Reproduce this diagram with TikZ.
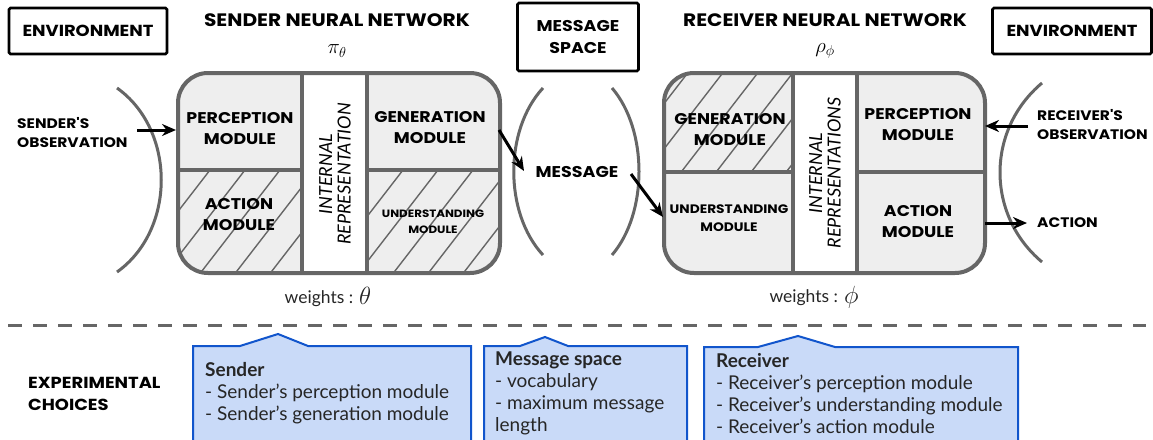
\documentclass[tikz,border=0pt]{standalone}
\usepackage{fontspec}
\setmainfont{Lato}
\newfontfamily\pop{Poppins}[FakeStretch=1.12]
\usetikzlibrary{arrows.meta}
\definecolor{bord}{HTML}{666666}
\definecolor{cellg}{HTML}{EEEEEE}
\definecolor{bfill}{HTML}{C9DAF8}
\definecolor{bline}{HTML}{1155CC}
\tikzset{
  capt/.style={font=\pop\bfseries\fontsize{15.5}{21}\selectfont, align=center, inner sep=0pt},
  capl/.style={font=\pop\bfseries\fontsize{13.8}{19}\selectfont, align=left, inner sep=0pt, anchor=west},
  smallcap/.style={font=\pop\bfseries\fontsize{10.6}{16}\selectfont, align=center, inner sep=0pt},
  rot/.style={font=\itshape\fontsize{18}{18.5}\selectfont, align=center, rotate=90, inner sep=0pt},
  envbox/.style={draw=black, line width=2.8pt, rounded corners=1.5pt, minimum width=158pt, minimum height=46pt, inner sep=0pt, font=\pop\bfseries\fontsize{16}{21}\selectfont, align=center},
  titl/.style={font=\pop\bfseries\fontsize{18}{21}\selectfont, inner sep=0pt},
  nnborder/.style={draw=bord, line width=4pt, rounded corners=30pt},
  inner/.style={draw=bord, line width=4pt},
  hatch/.style={draw=bord, line width=1.4pt},
  envarc/.style={draw=bord, line width=3pt},
  arr/.style={-{Stealth[length=14pt,width=12pt]}, line width=3pt, black},
  bluebox/.style={fill=bfill, draw=bline, line width=2pt, line join=miter},
  btext/.style={font=\fontsize{19}{22}\selectfont, align=left, anchor=north west, inner sep=0pt, text=black!85},
  wtext/.style={inner sep=0pt, font=\fontsize{17.5}{20}\selectfont, text=black!85},
}
\begin{document}
\begin{tikzpicture}[x=1pt,y=-1pt]
\useasboundingbox (0,0) rectangle (1153,439);

% ---------------- top boxes
\node[envbox] (envL) at (88,31) {ENVIRONMENT};
\node[envbox, minimum width=159pt] (envR) at (1072,31) {ENVIRONMENT};
\node[envbox, minimum width=121pt, minimum height=68pt, font=\pop\bfseries\fontsize{15.6}{22}\selectfont] (msp) at (578,37) {MESSAGE\\SPACE};

\node[titl] (stitle) at (337,20) {SENDER NEURAL NETWORK};
\node[inner sep=0pt, font=\fontsize{22}{24}\selectfont] (spi) at (337,51) {$\pi_\theta$};
\node[titl] (rtitle) at (825,20) {RECEIVER NEURAL NETWORK};
\node[inner sep=0pt, font=\fontsize{22}{24}\selectfont] (rrho) at (825,51) {$\rho_\phi$};

% ---------------- sender network
\fill[cellg, rounded corners=30pt] (178,73) rectangle (500,273);
\begin{scope}
  \clip[rounded corners=30pt] (178,73) rectangle (500,273);
  \clip (178,170) rectangle (302,273);
  \foreach \i in {0,...,9} \draw[hatch] (90+\i*35,280) -- ++(85,-110);
\end{scope}
\begin{scope}
  \clip[rounded corners=30pt] (178,73) rectangle (500,273);
  \clip (367,170) rectangle (500,273);
  \foreach \i in {0,...,9} \draw[hatch] (283+\i*35,280) -- ++(85,-110);
\end{scope}
\fill[white] (302,73) rectangle (367,273);
\draw[inner] (302,73) -- (302,273) (367,73) -- (367,273) (178,170) -- (302,170) (367,170) -- (500,170);
\draw[nnborder] (178,73) rectangle (500,273);

\node[capt] (sperc) at (240,129) {PERCEPTION\\MODULE};
\node[capt] (sact) at (239,215) {ACTION\\MODULE};
\node[rot] (sint) at (335,174) {INTERNAL\\REPRESENTATION};
\node[capt] (sgen) at (430,128) {GENERATION\\MODULE};
\node[smallcap] (sund) at (433,222) {UNDERSTANDING\\MODULE};

% ---------------- receiver network
\fill[cellg, rounded corners=30pt] (664,73) rectangle (985,273);
\begin{scope}
  \clip[rounded corners=30pt] (664,73) rectangle (985,273);
  \clip (664,73) rectangle (793,172);
  \foreach \i in {0,...,9} \draw[hatch] (605+\i*35,180) -- ++(85,-110);
\end{scope}
\fill[white] (793,73) rectangle (857,273);
\draw[inner] (793,73) -- (793,273) (857,73) -- (857,273) (664,172) -- (793,172) (857,172) -- (985,172);
\draw[nnborder] (664,73) rectangle (985,273);

\node[capt] (rgen) at (730,130) {GENERATION\\MODULE};
\node[smallcap, font=\pop\bfseries\fontsize{12.3}{18}\selectfont] (rund) at (729,218) {UNDERSTANDING\\MODULE};
\node[rot] (rint) at (825,173) {INTERNAL\\REPRESENTATIONS};
\node[capt] (rperc) at (918,125) {PERCEPTION\\MODULE};
\node[capt] (ract) at (918,222) {ACTION\\MODULE};

% ---------------- environment / message arcs
\draw[envarc] (117,88) .. controls (176,130) and (176,230) .. (117,272);
\draw[envarc] (543,88) .. controls (504,130) and (504,213) .. (543,255);
\draw[envarc] (612,88) .. controls (648,130) and (648,213) .. (612,255);
\draw[envarc] (1042,83) .. controls (986,130) and (986,215) .. (1042,262);

% ---------------- side labels
\node[capl] (sobs) at (17,133) {SENDER'S\\OBSERVATION};
\node[capt, font=\pop\bfseries\fontsize{15.6}{21}\selectfont] (msg) at (577,172) {MESSAGE};
\node[capl] (robs) at (1037,125) {RECEIVER'S\\OBSERVATION};
\node[capl] (ractl) at (1037,223) {ACTION};

% ---------------- arrows
\coordinate (a1s) at (137,130); \coordinate (a1e) at (176,130);
\coordinate (a2s) at (499,130); \coordinate (a2e) at (524,171);
\coordinate (a3s) at (631,174); \coordinate (a3e) at (663,217);
\coordinate (a4s) at (1028,126); \coordinate (a4e) at (985,126);
\coordinate (a5s) at (985,223); \coordinate (a5e) at (1027,223);
\draw[arr] (a1s) -- (a1e);
\draw[arr] (a2s) -- (a2e);
\draw[arr] (a3s) -- (a3e);
\draw[arr] (a4s) -- (a4e);
\draw[arr] (a5s) -- (a5e);

% ---------------- weights
\node[wtext] (sw) at (328,297) {weights : \raisebox{-1pt}{\fontsize{30}{30}\selectfont$\theta$}};
\node[wtext] (rw) at (814,297) {weights : \raisebox{-1pt}{\fontsize{30}{30}\selectfont$\phi$}};

% ---------------- dashed separator
\coordinate (dl) at (8,325); \coordinate (dr) at (1146,325);
\draw[bord, line width=3pt, dash pattern=on 14pt off 11pt] (dl) -- (dr);

% ---------------- experimental choices
\node[capl, font=\pop\bfseries\fontsize{16}{22}\selectfont] (exp) at (28,394) {EXPERIMENTAL\\CHOICES};

\draw[bluebox] (193,450) -- (193,346) -- (240,346) -- (278,334) -- (308,346) -- (471,346) -- (471,450);
\draw[bluebox] (484,450) -- (484,346) -- (520,346) -- (545,337) -- (568,346) -- (687,346) -- (687,450);
\draw[bluebox] (704,450) -- (704,347) -- (758,347) -- (798,336) -- (835,347) -- (1018,347) -- (1018,450);

\node[btext] (sbt) at (205,362) {\textbf{Sender}\\- Sender's perception module\\- Sender's generation module};
\node[btext] (mbt) at (495,352) {\textbf{Message space}\\- vocabulary\\- maximum message\\length};
\node[btext] (rbt) at (716,353) {\textbf{Receiver}\\- Receiver's perception module\\- Receiver's understanding module\\- Receiver's action module};
\end{tikzpicture}
\end{document}
